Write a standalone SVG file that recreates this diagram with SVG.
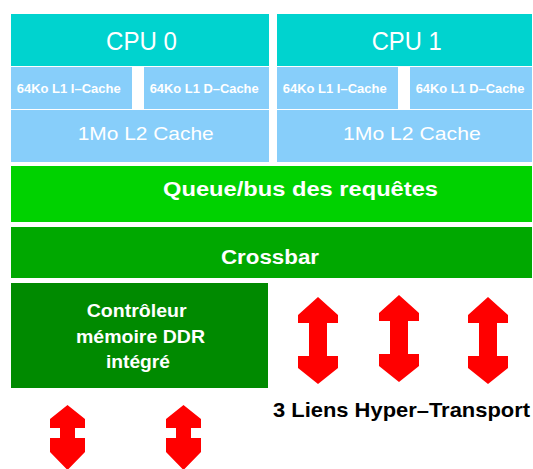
<svg xmlns="http://www.w3.org/2000/svg" width="533" height="469" viewBox="0 0 533 469">
<style>
.cpu{fill:#00D3CF}
.l1{fill:#87CEFA}
.t{font-family:"Liberation Sans","DejaVu Sans",sans-serif;fill:#fff}
.b{font-weight:bold}
.arr{fill:#FF0000}
</style>
<defs>
<path id="bigArrow" d="M0,0 L20,18 L20,26 L9,26 L9,59 L20,59 L20,71 L0,87 L-20,71 L-20,59 L-9,59 L-9,26 L-20,26 L-20,18 Z"/>
<path id="smallArrow" d="M0,0 L17.5,14 L17.5,23 L7.5,23 L7.5,33 L17.5,33 L17.5,47 L0,65 L-17.5,47 L-17.5,33 L-7.5,33 L-7.5,23 L-17.5,23 L-17.5,14 Z"/>
</defs>
<rect width="533" height="469" fill="#fff"/>
<g id="cpu0">
<rect class="cpu" x="11" y="14" width="258" height="52"/>
<text class="t" x="106" y="50" font-size="25" textLength="71" lengthAdjust="spacingAndGlyphs">CPU 0</text>
</g>
<g id="cpu0-l1i">
<rect class="l1" x="11" y="67" width="121" height="42"/>
<text class="t b" x="16.7" y="92.7" font-size="12.5" textLength="104" lengthAdjust="spacingAndGlyphs">64Ko L1 I–Cache</text>
</g>
<g id="cpu0-l1d">
<rect class="l1" x="144" y="67" width="125" height="42"/>
<text class="t b" x="149.7" y="92.7" font-size="12.5" textLength="109" lengthAdjust="spacingAndGlyphs">64Ko L1 D–Cache</text>
</g>
<g id="cpu0-l2">
<rect class="l1" x="11" y="110" width="258" height="52"/>
<text class="t" x="77.7" y="140" font-size="19" textLength="136" lengthAdjust="spacingAndGlyphs">1Mo L2 Cache</text>
</g>
<g id="cpu1">
<rect class="cpu" x="277" y="14" width="255" height="52"/>
<text class="t" x="371.7" y="50" font-size="25" textLength="70" lengthAdjust="spacingAndGlyphs">CPU 1</text>
</g>
<g id="cpu1-l1i">
<rect class="l1" x="277" y="67" width="121" height="42"/>
<text class="t b" x="282.7" y="92.7" font-size="12.5" textLength="104" lengthAdjust="spacingAndGlyphs">64Ko L1 I–Cache</text>
</g>
<g id="cpu1-l1d">
<rect class="l1" x="410" y="67" width="122" height="42"/>
<text class="t b" x="415.7" y="92.7" font-size="12.5" textLength="108.6" lengthAdjust="spacingAndGlyphs">64Ko L1 D–Cache</text>
</g>
<g id="cpu1-l2">
<rect class="l1" x="277" y="110" width="255" height="52"/>
<text class="t" x="343" y="140" font-size="19" textLength="137.7" lengthAdjust="spacingAndGlyphs">1Mo L2 Cache</text>
</g>
<g id="queue">
<rect x="11" y="166" width="521" height="56" fill="#00D200"/>
<text class="t b" x="163" y="196" font-size="20" textLength="275" lengthAdjust="spacingAndGlyphs">Queue/bus des requêtes</text>
</g>
<g id="crossbar">
<rect x="11" y="227" width="521" height="51" fill="#00A800"/>
<text class="t b" x="221" y="264" font-size="20" textLength="98" lengthAdjust="spacingAndGlyphs">Crossbar</text>
</g>
<g id="controleur">
<rect x="11" y="283" width="257" height="105" fill="#008A00"/>
<text class="t b" x="86.7" y="317" font-size="19" textLength="100" lengthAdjust="spacingAndGlyphs">Contrôleur</text>
<text class="t b" x="76" y="343" font-size="19" textLength="129" lengthAdjust="spacingAndGlyphs">mémoire DDR</text>
<text class="t b" x="106" y="368" font-size="19" textLength="64" lengthAdjust="spacingAndGlyphs">intégré</text>
</g>
<g id="connectors">
<use href="#bigArrow" class="arr" x="318" y="297"/>
<use href="#bigArrow" class="arr" x="399" y="295"/>
<use href="#bigArrow" class="arr" x="488" y="297"/>
<use href="#smallArrow" class="arr" x="67.5" y="405"/>
<use href="#smallArrow" class="arr" x="183.5" y="405"/>
</g>
<g id="label-ht">
<text x="273" y="417" font-family="Liberation Sans, DejaVu Sans, sans-serif" font-weight="bold" font-size="21" fill="#000" textLength="257" lengthAdjust="spacingAndGlyphs">3 Liens Hyper–Transport</text>
</g>
</svg>
